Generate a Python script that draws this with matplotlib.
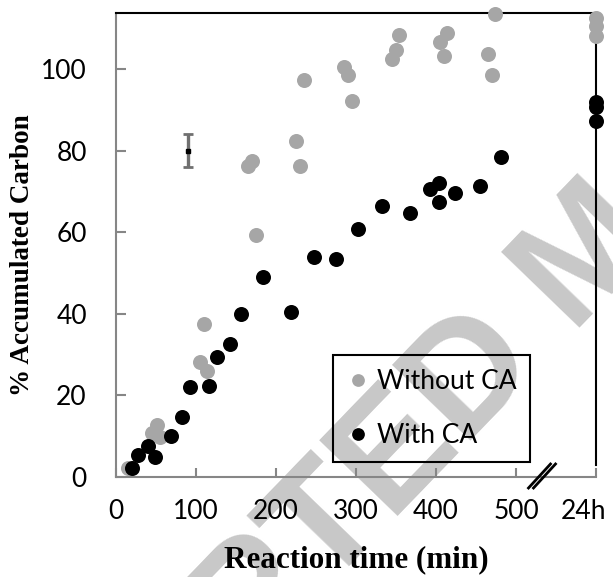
import matplotlib
matplotlib.use("Agg")
import matplotlib.pyplot as plt
from matplotlib.transforms import ScaledTranslation

# values
x_without = [15, 45, 51, 55, 105, 110, 114, 165, 170, 175, 225, 230, 235,
             285, 290, 295, 345, 350, 354, 405, 410, 414, 465, 470, 474,
             600, 600, 600]
y_without = [2.1, 10.9, 12.7, 9.9, 28.1, 37.5, 26.0, 76.3, 77.5, 59.3, 82.4,
             76.2, 97.3, 100.4, 98.5, 92.2, 102.4, 104.7, 108.3, 106.7, 103.2,
             108.7, 103.7, 98.4, 113.5, 112.4, 110.4, 108.1]

x_with = [20, 27, 40, 49, 69, 83, 93, 116, 126, 142, 156, 184, 219, 247, 275,
          303, 333, 368, 393, 404, 404, 424, 455, 481, 600, 600, 600]
y_with = [2.1, 5.4, 7.6, 5.0, 10.0, 14.8, 22.0, 22.3, 29.5, 32.5, 39.9, 49.1,
          40.5, 53.8, 53.4, 60.7, 66.4, 64.6, 70.5, 72.1, 67.5, 69.7, 71.3,
          78.4, 91.9, 90.6, 87.3]

# typical error bar
err_x = [90]
err_y = [80]
err_size = [4]

xtick_values = [0, 100, 200, 300, 400, 500, 600]
xtick_labels = ["0", "100", "200", "300", "400", "500", "24h"]
ytick_values = [0, 20, 40, 60, 80, 100]

plt.rcParams["font.family"] = "Lato"

fig = plt.figure(figsize=(6.13, 5.77), dpi=100)
ax = fig.add_axes([116 / 613, 100 / 577, 480 / 613, 464 / 577])
ax.patch.set_alpha(0)

# watermark behind the chart
fig.text(1.014, 0.507, "ACCEPTED MANUSCRIPT", rotation=46,
         rotation_mode="anchor", ha="center", va="baseline",
         fontsize=113, fontweight="bold", family="Liberation Sans",
         color="#c8c8c8", zorder=-1)

ax.plot(x_without, y_without, "o", color="#a6a6a6", ms=10.8, mew=0,
        label="Without CA", clip_on=False, zorder=3)
ax.plot(x_with, y_with, "o", color="black", ms=10.8, mew=0,
        label="With CA", clip_on=False, zorder=4)

eb = ax.errorbar(err_x, err_y, yerr=err_size, fmt="none", ecolor="#707070",
                 elinewidth=2.4, capsize=3.4, capthick=2)
for cap in eb[1]:
    cap.set_color("black")
ax.plot(err_x, err_y, "s", color="black", ms=3)

ax.set_xlim(0, 600)
ax.set_ylim(0, 113.7)
ax.set_xticks(xtick_values)
ax.set_xticklabels(xtick_labels)
ax.set_yticks(ytick_values)

for s in ["left", "bottom"]:
    ax.spines[s].set_color("#868686")
    ax.spines[s].set_linewidth(1.5)
for s in ["top", "right"]:
    ax.spines[s].set_color("black")
    ax.spines[s].set_linewidth(1.5)
ax.spines["right"].set_bounds(2.9, 113.7)

ax.tick_params(axis="both", direction="in", color="#868686", width=1.5,
               labelsize=19, labelcolor="black")
ax.tick_params(axis="x", length=6.5, pad=16)
ax.tick_params(axis="y", length=7, pad=21)

# the 24h label sits a little left of its tick
last = ax.get_xticklabels()[-1]
last.set_transform(last.get_transform()
                   + ScaledTranslation(-12 / 100, 0, fig.dpi_scale_trans))

ax.set_xlabel("Reaction time (min)", family="Liberation Serif",
              fontweight="bold", fontsize=22.4)
ax.xaxis.set_label_coords(0.5, -0.147)
ax.set_ylabel("% Accumulated Carbon", family="Liberation Serif",
              fontweight="bold", fontsize=19.5)
ax.yaxis.set_label_coords(-0.169, 0.478)

# axis break marks between 500 and 24h
for off in (-2.5, 2.5):
    x0 = (531 + off - 116) / 480
    x1 = (553 + off - 116) / 480
    ax.plot([x0, x1], [(477 - 488) / 464, (477 - 464) / 464],
            transform=ax.transAxes, color="black", lw=2, clip_on=False,
            zorder=5)

leg = ax.legend(loc="upper left",
                bbox_to_anchor=((333 - 116) / 480, (477 - 355) / 464),
                borderaxespad=0, fancybox=False, edgecolor="black",
                facecolor="none", framealpha=1,
                prop={"family": "Lato", "size": 19},
                handlelength=0.83, handletextpad=0.3, borderpad=0.53,
                labelspacing=1.1, markerscale=0.85)
leg.get_frame().set_linewidth(1.5)

fig.savefig("out.png", dpi=100)
